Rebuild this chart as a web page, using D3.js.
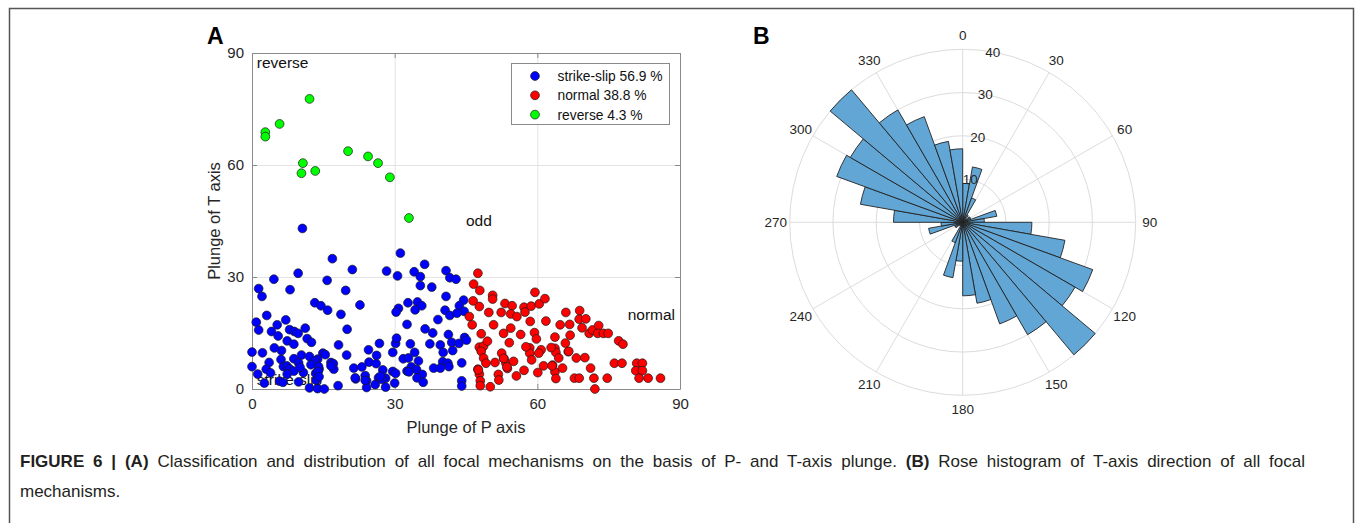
<!DOCTYPE html>
<html><head><meta charset="utf-8">
<script src="https://cdn.jsdelivr.net/npm/d3@7"></script>
<style>
html,body{margin:0;padding:0;background:#fff;}
svg{display:block;font-family:"Liberation Sans",Arial,sans-serif;}
</style></head>
<body>
<svg id="fig" width="1355" height="523"></svg>
<script>
// ---------- DATA ----------
const xTicks = [0, 30, 60, 90];
const yTicks = [0, 30, 60, 90];
const legendLabels = ["strike-slip 56.9 %", "normal 38.8 %", "reverse 4.3 %"];
const regionLabels = [["reverse",1,87.5],["odd",45,45],["normal",79,20],["strike-slip",1,2.4]];

// [plunge of P, plunge of T]
const strikeSlip = [
[10.6,43],[31.2,36.4],[16.9,34.9],[36.3,33.4],[21.1,32],[28.3,31.6],[34.1,31.4],[40.8,31.7],[9.7,31],[30.6,30.3],
[35.4,30.1],[41.6,29.8],[42.9,29.4],[4.6,29.4],[15.8,29.1],[35.4,27.7],[37.8,27.3],[1.4,26.9],[8,26.6],[19.7,26.4],
[2.1,24.8],[40.8,24.8],[44.5,23.8],[13.2,23.1],[32.8,23.1],[34.8,23.3],[14.5,22.3],[22.7,22.5],[35.7,22.3],[30.8,21.6],
[43.6,22.3],[34.3,21.2],[15.9,21.1],[30.3,20.6],[40.6,21.1],[44.6,20.8],[41.6,19.7],[43.1,20.3],[18.7,20],[3.1,19.7],
[39.1,18.6],[0.9,17.9],[7.1,18.5],[5.3,17.2],[32.6,17.3],[1.4,15.8],[11.2,16.3],[20,16],[7.9,15.9],[4.1,15.4],
[8.9,15.4],[9.7,14.9],[5.5,14.2],[38,15],[41.3,14.6],[11.6,13.5],[7.4,12.9],[12.5,12.5],[8.8,12],[26.8,12.2],
[30.2,12.2],[33.3,12.1],[30.4,13.6],[37.4,12.1],[42,12.5],[39.6,11.8],[44.7,13.8],[43.5,12.2],[45.1,13.1],[0,9.9],
[6.2,10.3],[24.5,10.5],[29.6,9.8],[34.2,9.8],[40.2,9.8],[42.2,10.3],[10.4,9.1],[19.9,9.1],[14.9,9.6],[15.4,9.2],
[8.8,8.1],[12.1,8.7],[13.8,8],[13.2,7.5],[31.8,8.1],[32.9,8.3],[35,7.5],[40.1,7.3],[44.1,7],[3.6,7.1],
[6.1,7.9],[9.8,7],[16.6,7.1],[17.1,6.8],[24.6,7.2],[26.1,6.8],[41.2,6.9],[0,6],[3,5.3],[6.6,6],
[7.3,6.2],[7.9,5.4],[8.8,4.8],[12.4,6.5],[14.1,5.3],[14,6],[17.2,5.3],[16.6,6.2],[21.4,5.6],[23.1,5.9],
[27.5,5.1],[29.6,4.7],[32.6,4.8],[33.5,5.9],[34.6,5.2],[38.2,5.6],[39.6,5.6],[41.4,6],[1.2,4],[3.9,4.3],
[7.4,4],[13.4,4.2],[13.9,4.7],[35.8,3.9],[23.8,3.6],[26.6,3],[28.1,2.9],[34.7,3],[21.8,2.7],[24.1,2.2],
[2.6,1.6],[5.8,2.1],[9.8,1.9],[13.5,2.4],[18.1,0.9],[30,1.6],[36,1.8],[44.1,2.2],[25.9,1.2],[28.1,0.5],
[24.1,0.4],[12.1,0.3],[13.8,0.1],[15.2,0],[44.1,0.8],[6.5,1.8],[14.1,3.3],[27.3,2.6],[30.2,4.2],[23.8,2.3],
[21.7,3],[33,4.6],[27,3.4],[10.8,4.4],[2.2,9.7],[18.2,11.8],[4.7,11],[10.1,5.8],[36.4,16.1],[26.2,9]
];
const normal = [
[47.5,31],[46.6,28.1],[47.9,26.4],[46.5,23.6],[47.8,22.1],[45.7,19.4],[50.6,25.1],[50.6,24.1],[53.2,22.9],[54.7,22.3],
[52.4,20.5],[54.4,20.1],[55.7,19.4],[57.2,21.9],[58.7,22.2],[57.4,20.6],[59.5,25.9],[60.4,22.8],[61.6,24.2],[58.5,18.1],
[50.8,17.2],[48.2,14.8],[52.9,14.9],[54.1,12.4],[47.8,11.2],[48.7,11.5],[48.2,10.1],[48.7,8.3],[49.2,6.9],[51.1,7.1],
[52.5,9.6],[53,8.1],[53.4,6.9],[53.7,5.5],[55,7.4],[47.5,5.3],[47.8,4],[51.8,3.9],[51.9,2.4],[48,2.2],
[48,0.9],[50.1,0.6],[59.4,15.1],[59.8,13.4],[58.4,11],[60.8,10.5],[58.4,9.6],[58.8,7.8],[60.3,9.6],[61.3,6.2],
[63.7,13.9],[63.7,10.9],[63.9,9.8],[64.5,8.3],[63.2,6.4],[63.7,4.6],[63.9,2.8],[65.3,5.6],[64.8,17.2],[66,20.5],
[66.8,17.3],[66.9,14.4],[66.5,10],[68.2,8.3],[67.8,2.9],[68.8,2.9],[68.9,21],[68.8,18.7],[69.4,16.4],[70.2,18.8],
[70,8.4],[71.2,5.6],[71.9,2.9],[72.1,0],[70.9,14.9],[71.6,15.8],[72.9,17],[72.7,14.9],[73.9,14.9],[74.9,14.9],
[74.7,2.9],[76.2,6.9],[77.8,6.9],[77.1,12.9],[78,12],[80.9,6.9],[82.1,6.9],[80.7,4.9],[82.1,4.9],[81.4,2.9],
[83.3,2.9],[85.9,2.9],[53.6,5.9],[57.6,11.3],[47.6,5.1],[63.1,6.2],[66.6,10.1],[52.9,8.2],[62.9,11.1],[56.5,14.6],
[46.3,17.2],[49.5,12.8],[55.6,3.5],[60.1,4.4],[65.9,12.3],[57.2,5],[61.8,18.2],[49.8,20.5],[54.4,16.3]
];
const reverse = [
[2.8,68.8],[2.8,67.6],[5.8,71],[12.1,77.7],[10.4,57.8],[10.7,60.5],[13.3,58.4],[20.2,63.7],[24.4,62.3],[26.5,60.5],
[29,56.7],[33,45.8]
];

// Rose histogram of T-axis azimuth, 10 degree bins starting at 0 (counts)
const roseBinStart = [0,10,20,30,40,50,60,70,80,90,100,110,120,130,140,150,160,170,
                      180,190,200,210,220,230,240,250,260,270,280,290,300,310,320,330,340,350];
const roseCounts   = [9,13,6,2,1,2,2,8,5,16,24,32,30,40,30,25,19,17,
                      9,13,5,1,1,2,2,8,5,16,24,31,30,40,30,26,19,17];
const rTicks = [10,20,30,40];
const thetaTicks = [0,30,60,90,120,150,180,210,240,270,300,330];

const captionLine1 = [
  {t:"FIGURE 6 | (A)", b:true},
  {t:" Classification and distribution of all focal mechanisms on the basis of P- and T-axis plunge. ", b:false},
  {t:"(B)", b:true},
  {t:" Rose histogram of T-axis direction of all focal", b:false}
];
const captionLine2 = "mechanisms.";

// ---------- DRAW ----------
const svg = d3.select("#fig");
svg.append("rect").attr("width",1355).attr("height",523).attr("fill","#fff");
// figure frame
svg.append("path").attr("d","M9.5,523 V8.5 H1353.5 V523").attr("fill","none").attr("stroke","#555").attr("stroke-width",1.5);

// ===== Panel A =====
const x = d3.scaleLinear().domain([0,90]).range([252,680]);
const y = d3.scaleLinear().domain([0,90]).range([389,53]);
const gA = svg.append("g");
const tickCol = "#262626";

// grid
gA.selectAll(".gx").data(xTicks.slice(1,-1)).join("line")
  .attr("x1",d=>x(d)+0.5).attr("x2",d=>x(d)+0.5).attr("y1",y(0)).attr("y2",y(90))
  .attr("stroke","#e3e3e3").attr("stroke-width",1);
gA.selectAll(".gy").data(yTicks.slice(1,-1)).join("line")
  .attr("y1",d=>y(d)+0.5).attr("y2",d=>y(d)+0.5).attr("x1",x(0)).attr("x2",x(90))
  .attr("stroke","#e3e3e3").attr("stroke-width",1);

// axes with inward ticks
const axB = d3.axisBottom(x).tickValues(xTicks).tickSizeInner(-5).tickSizeOuter(0).tickPadding(9);
const axL = d3.axisLeft(y).tickValues(yTicks).tickSizeInner(-5).tickSizeOuter(0).tickPadding(8);
const axT = d3.axisTop(x).tickValues(xTicks).tickSizeInner(-5).tickSizeOuter(0).tickFormat("");
const axR = d3.axisRight(y).tickValues(yTicks).tickSizeInner(-5).tickSizeOuter(0).tickFormat("");
function styleAxis(g){
  g.select(".domain").attr("stroke","#8a8a8a");
  g.selectAll(".tick line").attr("stroke","#8a8a8a");
  g.selectAll(".tick text").attr("fill",tickCol).style("font-size","15px").style("font-family","'Liberation Sans',Arial,sans-serif");
}
gA.append("g").attr("transform",`translate(0,${y(0)})`).call(axB).call(styleAxis);
gA.append("g").attr("transform",`translate(${x(0)},0)`).call(axL).call(styleAxis);
gA.append("g").attr("transform",`translate(0,${y(90)})`).call(axT).call(styleAxis);
gA.append("g").attr("transform",`translate(${x(90)},0)`).call(axR).call(styleAxis);

// axis labels
gA.append("text").attr("x",(x(0)+x(90))/2).attr("y",433).attr("text-anchor","middle")
  .attr("fill",tickCol).style("font-size","16.5px").text("Plunge of P axis");
gA.append("text").attr("transform",`translate(220,${(y(0)+y(90))/2}) rotate(-90)`).attr("text-anchor","middle")
  .attr("fill",tickCol).style("font-size","16.5px").text("Plunge of T axis");

// region labels
gA.selectAll(".rl").data(regionLabels).join("text")
  .attr("x",d=>x(d[1])).attr("y",d=>y(d[2])).attr("dy","0.35em")
  .attr("fill","#111").style("font-size","15.5px").text(d=>d[0]);

// points
const series = [
  {data:strikeSlip, color:"#0000ff"},
  {data:normal, color:"#ff0000"},
  {data:reverse, color:"#00ff00"}
];
series.forEach(s=>{
  gA.append("g").selectAll("circle").data(s.data).join("circle")
    .attr("cx",d=>x(d[0])).attr("cy",d=>y(d[1])).attr("r",4.4)
    .attr("fill",s.color).attr("stroke","#1a1a1a").attr("stroke-width",0.7);
});

// legend
const lg = gA.append("g");
lg.append("rect").attr("x",511.5).attr("y",63.5).attr("width",158).attr("height",61)
  .attr("fill","#fff").attr("stroke","#8a8a8a").attr("stroke-width",1);
legendLabels.forEach((t,i)=>{
  const yy = 76 + i*19.3;
  lg.append("circle").attr("cx",535).attr("cy",yy).attr("r",4.4)
    .attr("fill",series[i].color).attr("stroke","#1a1a1a").attr("stroke-width",0.7);
  lg.append("text").attr("x",557.5).attr("y",yy).attr("dy","0.36em")
    .attr("fill","#111").style("font-size","13.8px").text(t);
});

// panel letter
svg.append("text").attr("x",207).attr("y",44).style("font-size","23px").style("font-weight","bold").attr("fill","#000").text("A");

// ===== Panel B (rose) =====
const cx = 962.7, cy = 222.3;
const r = d3.scaleLinear().domain([0,40]).range([0,173]);
const gB = svg.append("g").attr("transform",`translate(${cx},${cy})`);
const gridCol = "#dcdcdc";
gB.selectAll(".ring").data(rTicks).join("circle").attr("r",d=>r(d))
  .attr("fill","none").attr("stroke",gridCol).attr("stroke-width",1);
gB.selectAll(".spoke").data(thetaTicks).join("line")
  .attr("x1",0).attr("y1",0)
  .attr("x2",d=>r(40)*Math.sin(d*Math.PI/180)).attr("y2",d=>-r(40)*Math.cos(d*Math.PI/180))
  .attr("stroke",gridCol).attr("stroke-width",1);

const arc = d3.arc().innerRadius(0);
gB.selectAll(".bar").data(roseBinStart.map((s,i)=>({s, c:roseCounts[i]}))).join("path")
  .attr("d",d=>arc({outerRadius:r(d.c), startAngle:d.s*Math.PI/180, endAngle:(d.s+10)*Math.PI/180}))
  .attr("fill","#62a6d5").attr("stroke","#222").attr("stroke-width",0.9);

// theta labels
gB.selectAll(".tl").data(thetaTicks).join("text")
  .attr("x",d=>187*Math.sin(d*Math.PI/180)).attr("y",d=>-187*Math.cos(d*Math.PI/180))
  .attr("dy","0.35em").attr("text-anchor","middle").attr("fill",tickCol)
  .style("font-size","13.5px").text(d=>d);
// r labels
gB.selectAll(".rlab").data(rTicks).join("text")
  .attr("x",d=>r(d)*Math.sin(10*Math.PI/180)).attr("y",d=>-r(d)*Math.cos(10*Math.PI/180))
  .attr("dy","0.35em").attr("text-anchor","middle").attr("fill",tickCol)
  .style("font-size","13.5px").text(d=>d);

svg.append("text").attr("x",753).attr("y",44).style("font-size","23px").style("font-weight","bold").attr("fill","#000").text("B");

// ===== Caption (justified first line) =====
const cap = svg.append("text").attr("x",20).attr("y",467).attr("fill","#231f20").style("font-size","17px");
captionLine1.forEach(p=>{
  cap.append("tspan").style("font-weight",p.b?"bold":"normal").text(p.t);
});
const natural = cap.node().getComputedTextLength();
const nSpaces = captionLine1.map(p=>p.t).join("").split(" ").length - 1;
cap.style("word-spacing", Math.max(0,(1305 - 20 - natural)/nSpaces) + "px");
svg.append("text").attr("x",20).attr("y",497).attr("fill","#231f20").style("font-size","17px").text(captionLine2);
</script>
</body></html>
